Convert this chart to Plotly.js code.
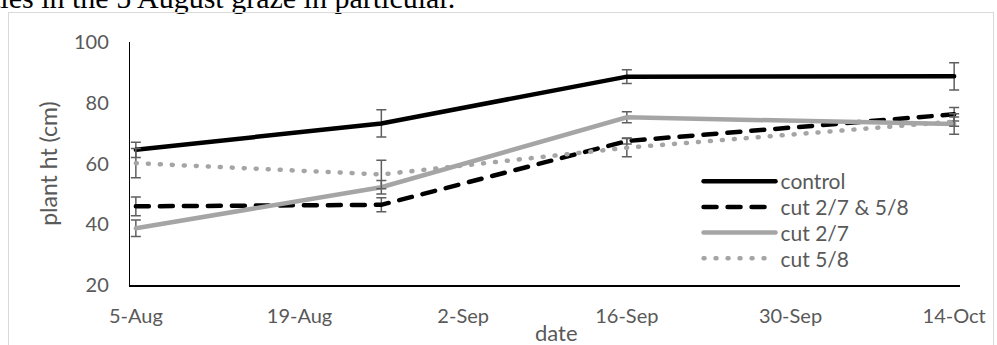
<!DOCTYPE html>
<html>
<head>
<meta charset="utf-8">
<script src="https://cdn.plot.ly/plotly-3.0.1.min.js"></script>
<style>
  html, body { margin: 0; padding: 0; background: #fff; }
  #wrap { position: relative; width: 997px; height: 345px; overflow: hidden; background: #fff; }
  #frame { position: absolute; left: 8px; top: 12px; width: 986px; height: 400px; border: 1px solid #d9d9d9; box-sizing: border-box; }
  #doc { position: absolute; left: -8px; top: -17px; font-family: "Liberation Serif", "Times New Roman", serif; font-size: 30px; line-height: 30px; color: #000; white-space: nowrap; }
  #chart { position: absolute; left: 0; top: 0; width: 997px; height: 345px; }
  .scatterlayer .trace .js-line { stroke-linecap: round; }
  .legendlines path { stroke-linecap: round; }
</style>
</head>
<body>
<div id="wrap">
  <div id="doc">ties in the 5 August graze in particular.</div>
  <div id="frame"></div>
  <div id="chart"></div>
</div>
<script>
// ---- data ----
const dates = ['2016-08-05', '2016-08-26', '2016-09-16', '2016-10-14'];
const seriesNames = ['control', 'cut 2/7 & 5/8', 'cut 2/7', 'cut 5/8'];
const control    = [64.5, 73.2, 88.6, 88.7];
const controlErr = [2.5, 4.5, 2.3, 4.5];
const cutBoth    = [45.9, 46.4, 67.4, 76.2];
const cutBothErr = [3.1, 2.3, 1.0, 2.2];
const cut27      = [38.7, 52.2, 75.2, 73.0];
const cut27Err   = [2.7, 2.2, 1.8, 3.4];
const cut58      = [60.1, 56.4, 65.2, 73.8];
const cut58Err   = [4.8, 4.7, 3.0, 1.5];
const xTickVals  = ['2016-08-05', '2016-08-19', '2016-09-02', '2016-09-16', '2016-09-30', '2016-10-14'];
const xTickText  = ['5-Aug', '19-Aug', '2-Sep', '16-Sep', '30-Sep', '14-Oct'];
const yTickVals  = [20, 40, 60, 80, 100];

const FONT = 'Lato, "Open Sans", sans-serif';
const TXT = '#595959';
const errStyle = (arr) => ({ type: 'data', array: arr, visible: true, color: '#5f5f5f', thickness: 1.5, width: 5 });

const traces = [
  { x: dates, y: control, name: seriesNames[0], mode: 'lines',
    line: { color: '#000000', width: 4.5 }, error_y: errStyle(controlErr) },
  { x: dates, y: cutBoth, name: seriesNames[1], mode: 'lines',
    line: { color: '#000000', width: 4.5, dash: '13px,11px' }, error_y: errStyle(cutBothErr) },
  { x: dates, y: cut27, name: seriesNames[2], mode: 'lines',
    line: { color: '#a5a5a5', width: 4.5 }, error_y: errStyle(cut27Err) },
  { x: dates, y: cut58, name: seriesNames[3], mode: 'lines',
    line: { color: '#a5a5a5', width: 4.5, dash: '1px,11px' }, error_y: errStyle(cut58Err) }
];

const layout = {
  width: 997, height: 345,
  margin: { l: 130, r: 37, t: 42, b: 60 },
  paper_bgcolor: 'rgba(0,0,0,0)',
  plot_bgcolor: 'rgba(0,0,0,0)',
  font: { family: FONT, size: 20, color: TXT },
  showlegend: true,
  legend: {
    x: 0.685, y: 0.51, xanchor: 'left', yanchor: 'top',
    bgcolor: 'rgba(0,0,0,0)', font: { family: FONT, size: 21, color: TXT },
    itemwidth: 72, tracegroupgap: 0
  },
  xaxis: {
    type: 'date',
    range: ['2016-08-04 12:00', '2016-10-14 12:00'],
    tickmode: 'array', tickvals: xTickVals, ticktext: xTickText,
    showgrid: false, zeroline: false,
    showline: true, linecolor: '#000000', linewidth: 1.5,
    ticks: '', ticklabelstandoff: 12,
    tickfont: { family: FONT, size: 20, color: TXT }
  },
  yaxis: {
    range: [20, 100],
    tickmode: 'array', tickvals: yTickVals,
    showgrid: false, zeroline: false,
    showline: true, linecolor: '#000000', linewidth: 1.2,
    ticks: '', ticklabelstandoff: 16,
    tickfont: { family: FONT, size: 20, color: TXT }
  },
  annotations: [
    { text: 'date', xref: 'paper', yref: 'paper', x: 0.514, y: -0.197,
      xanchor: 'center', yanchor: 'middle', showarrow: false,
      font: { family: FONT, size: 22, color: TXT } },
    { text: 'plant ht (cm)', xref: 'paper', yref: 'paper', x: -0.099, y: 0.498,
      xanchor: 'center', yanchor: 'middle', showarrow: false, textangle: -90,
      font: { family: FONT, size: 23, color: TXT } }
  ]
};

Plotly.newPlot('chart', traces, layout, { staticPlot: true, displayModeBar: false }).then(function (gd) {
  // tighten legend row spacing to match the reference (about 25.7px per row)
  const items = gd.querySelectorAll('.legend .traces');
  if (!items.length) return;
  const m0 = /translate\(\s*([-\d.]+)[ ,]+([-\d.]+)\s*\)/.exec(items[0].getAttribute('transform') || '');
  if (!m0) return;
  const x0 = parseFloat(m0[1]), y0 = parseFloat(m0[2]);
  items.forEach(function (el, i) {
    el.setAttribute('transform', 'translate(' + x0 + ',' + (y0 + i * 25.7) + ')');
  });
});
</script>
</body>
</html>
